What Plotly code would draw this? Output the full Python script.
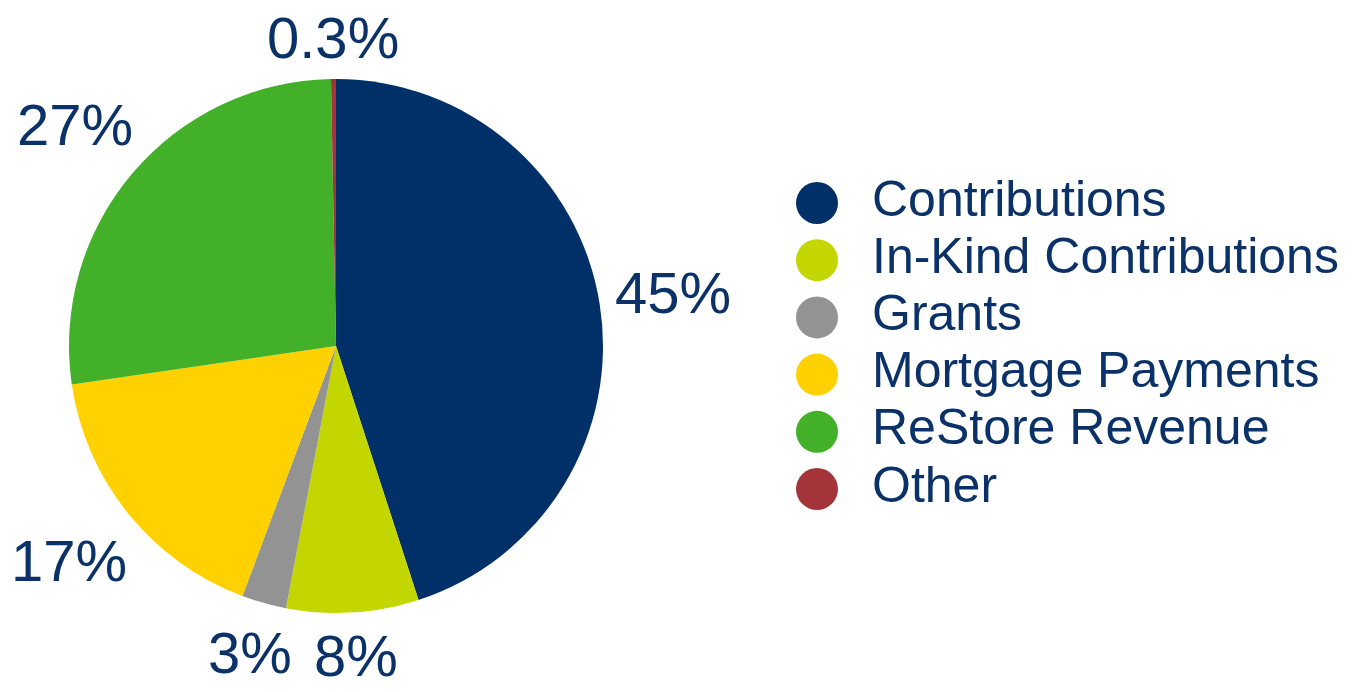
import math
import plotly.graph_objects as go

categories = ["Contributions", "In-Kind Contributions", "Grants",
              "Mortgage Payments", "ReStore Revenue", "Other"]
values = [45, 8, 2.7, 17, 27, 0.3]
pct_labels = ["45%", "8%", "3%", "17%", "27%", "0.3%"]
colors = ["#003067", "#c4d600", "#939393", "#ffd100", "#43b02a", "#a4343a"]
text_color = "#0b3268"
FONT = "Arial, Liberation Sans, sans-serif"

W, H = 1355, 692
# page offset compensation (body margin)
OX, OY = 7, 8
# pie geometry (target, in screenshot pixels)
CX, CY, R = 335 - OX, 346 - OY, 267
LABEL_SIZE = 58
LEGEND_SIZE = 50

fig = go.Figure()

fig.add_trace(go.Pie(
    labels=categories,
    values=values,
    text=pct_labels,
    textinfo="none",
    sort=False,
    direction="clockwise",
    rotation=0,
    marker=dict(colors=colors, line=dict(width=0)),
    domain=dict(x=[(CX - R) / W, (CX + R) / W],
                y=[1 - (CY + R) / H, 1 - (CY - R) / H]),
    showlegend=False,
    hoverinfo="label+text",
))

# outside percentage labels, placed along each slice's mid-angle
char_w = {"%": 0.889, ".": 0.278}
total = sum(values)
cum = 0.0
annotations = []
for v, lab in zip(values, pct_labels):
    mid = (cum + v / 2) / total * 2 * math.pi
    cum += v
    ux, uy = math.sin(mid), math.cos(mid)
    w = LABEL_SIZE * sum(char_w.get(c, 0.556) for c in lab)
    hh = LABEL_SIZE * 0.5
    d = R + 12 + abs(ux) * w / 2 + abs(uy) * hh
    px, py = CX + d * ux, CY - d * uy
    annotations.append(dict(
        x=px / W, y=1 - py / H, xref="paper", yref="paper",
        text=lab, showarrow=False, xanchor="center", yanchor="middle",
        borderpad=0,
        font=dict(family=FONT, size=LABEL_SIZE, color=text_color),
    ))

# custom legend with large circle markers
rows = list(range(len(categories)))
fig.add_trace(go.Scatter(
    x=[0] * len(categories), y=rows,
    mode="markers",
    marker=dict(size=42, color=colors, line=dict(width=0)),
    xaxis="x2", yaxis="y2", showlegend=False, hoverinfo="skip",
))
fig.add_trace(go.Scatter(
    x=[1.1] * len(categories), y=rows,
    mode="text", text=categories, textposition="middle right",
    textfont=dict(family=FONT, size=LEGEND_SIZE, color=text_color),
    xaxis="x2", yaxis="y2", showlegend=False, hoverinfo="skip",
))

LX, LY0, LDY, LUNIT = 816 - OX, 203 - OY, 57.2, 50.0

fig.update_layout(
    width=W, height=H,
    margin=dict(l=0, r=0, t=0, b=0),
    paper_bgcolor="white", plot_bgcolor="white",
    annotations=annotations,
    xaxis2=dict(domain=[0, 1], range=[-LX / LUNIT, (W - LX) / LUNIT],
                visible=False, fixedrange=True, anchor="y2"),
    yaxis2=dict(domain=[0, 1], range=[(H - LY0) / LDY, -LY0 / LDY],
                visible=False, fixedrange=True, anchor="x2"),
)

fig.write_html("out.html")
